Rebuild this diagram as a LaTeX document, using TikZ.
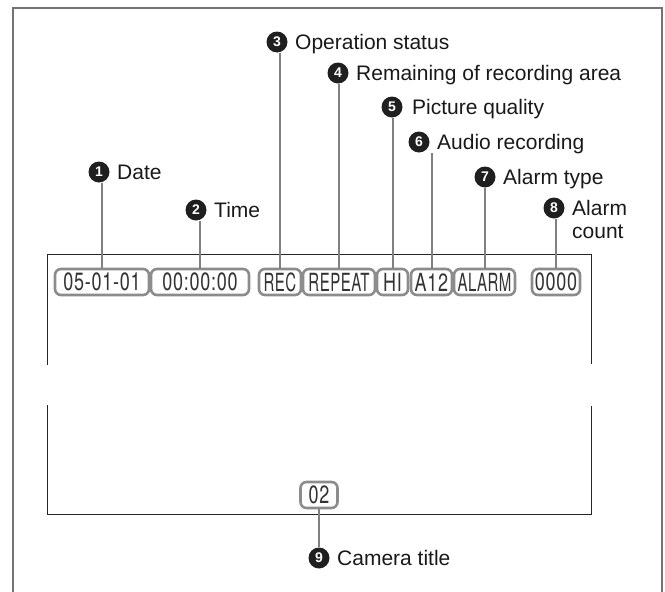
\documentclass[tikz,border=0pt]{standalone}
\usepackage{fontspec}
\setmainfont{Liberation Sans}
\newfontfamily\lcdnum[FakeStretch=0.72,LetterSpace=3]{TeX Gyre Heros}
\newfontfamily\lcdlet[FakeStretch=0.6,LetterSpace=2]{TeX Gyre Heros}
\begin{document}
\begin{tikzpicture}[x=1pt,y=-1pt,
  lab/.style={font=\fontsize{21}{23}\selectfont, text=black!90, inner sep=0pt, anchor=base west},
  num/.style={circle, fill=black!88, text=white, inner sep=0pt, minimum size=21pt, font=\fontsize{14}{14}\selectfont\bfseries},
  scr/.style={draw=black!85, line width=1pt},
  frm/.style={draw=black!55, line width=1.6pt},
  lcd/.style={draw=black!45, line width=2.6pt, rounded corners=6pt, fill=white, minimum height=26pt, inner sep=0pt, font=\lcdnum\fontsize{25}{25}\selectfont, text=black!80},
  lcdw/.style={lcd, font=\lcdlet\fontsize{25}{25}\selectfont},
  lead/.style={draw=black!50, line width=2pt}]
\useasboundingbox (0,0) rectangle (665,592);
% outer frame
\draw[frm] (13,592) -- (13,8) -- (662,8) -- (662,592);
% screen
\draw[scr] (47,365) -- (47,254) -- (591,254) -- (591,364);
\draw[scr] (47,405) -- (47,514) -- (591,514) -- (591,406);
% display boxes
\node[lcd, minimum width=94pt] (b1) at (102,282) {05-01-01};
\node[lcd, minimum width=98pt] (b2) at (200,282) {00:00:00};
\node[lcdw, minimum width=42pt] (b3) at (280,282) {REC};
\node[lcdw, minimum width=72pt] (b4) at (339,282) {REPEAT};
\node[lcd, minimum width=31pt] (b5) at (392.5,282) {HI};
\node[lcd, minimum width=41pt] (b6) at (431.5,282) {A12};
\node[lcdw, minimum width=61pt] (b7) at (484.5,282) {ALARM};
\node[lcd, minimum width=48pt] (b8) at (556,282) {0000};
\node[lcd, minimum width=37pt] (b9) at (319,495) {02};
% numbered labels
\node[num] (n1) at (99,172) {1};
\node[num] (n2) at (196,210) {2};
\node[num] (n3) at (277,42) {3};
\node[num] (n4) at (338,73) {4};
\node[num] (n5) at (392,107) {5};
\node[num] (n6) at (419,142) {6};
\node[num] (n7) at (485,177) {7};
\node[num] (n8) at (554,208) {8};
\node[num] (n9) at (319,558) {9};
\node[lab] (t1) at (117,179.7) {Date};
\node[lab] (t2) at (214,217.7) {Time};
\node[lab] (t3) at (295,49.7) {Operation status};
\node[lab] (t4) at (356,80.7) {Remaining of recording area};
\node[lab] (t5) at (412,114.7) {Picture quality};
\node[lab] (t6) at (437,149.7) {Audio recording};
\node[lab] (t7) at (503,184.7) {Alarm type};
\node[lab] (t8) at (572,215.7) {Alarm};
\node[lab] (t8b) at (572,238.7) {count};
\node[lab] (t9) at (337,565.7) {Camera title};
% leader lines
\draw[lead] (b1.north) -- (b1.north |- n1.south);
\draw[lead] (b2.north) -- (b2.north |- n2.south);
\draw[lead] (b3.north) -- (b3.north |- n3.south);
\draw[lead] (b4.north) -- (b4.north |- n4.south);
\draw[lead] (b5.north) -- (b5.north |- n5.south);
\draw[lead] (b6.north) -- (b6.north |- n6.south);
\draw[lead] (b7.north) -- (b7.north |- n7.south);
\draw[lead] (b8.north) -- (b8.north |- n8.south);
\draw[lead] (b9.south) -- (n9.north);
\end{tikzpicture}
\end{document}
